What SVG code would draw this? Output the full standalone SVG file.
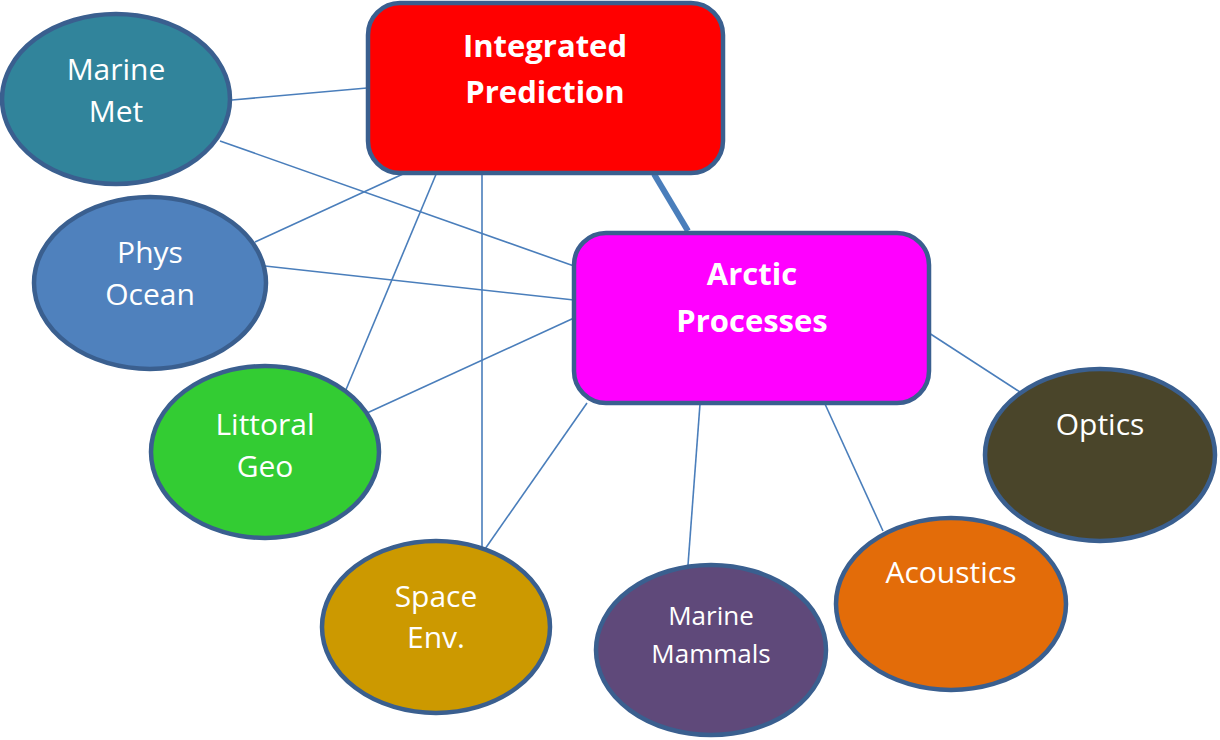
<svg xmlns="http://www.w3.org/2000/svg" width="1220" height="740" viewBox="0 0 1220 740">
  <style>
    .link { stroke: #4A7EBB; stroke-width: 1.6; fill: none; }
    .link-main { stroke: #4A7EBB; stroke-width: 6; fill: none; }
    .node { stroke: #3A5F8F; stroke-width: 4.5; }
    .label { font-family: "Open Sans", "Liberation Sans", sans-serif; font-size: 30px; fill: #FFFFFF; text-anchor: middle; }
    .label-bold { font-family: "Open Sans", "Liberation Sans", sans-serif; font-size: 31px; font-weight: bold; fill: #FFFFFF; text-anchor: middle; }
    .label-small { font-size: 26px; }
  </style>

  <!-- connectors -->
  <g id="connectors">
    <line class="link-main" x1="654" y1="174" x2="688" y2="231"/>
    <line class="link" x1="232" y1="100" x2="367" y2="88"/>
    <line class="link" x1="220" y1="141" x2="574" y2="266"/>
    <line class="link" x1="255" y1="242" x2="403" y2="174"/>
    <line class="link" x1="265" y1="266" x2="574" y2="300"/>
    <line class="link" x1="345" y1="392" x2="437" y2="172"/>
    <line class="link" x1="367" y1="413" x2="574" y2="318"/>
    <line class="link" x1="482" y1="552" x2="482" y2="174"/>
    <line class="link" x1="485" y1="549" x2="587" y2="403"/>
    <line class="link" x1="688" y1="565" x2="700" y2="404"/>
    <line class="link" x1="883" y1="531" x2="825" y2="404"/>
    <line class="link" x1="1020" y1="392" x2="929" y2="333"/>
  </g>

  <!-- process boxes -->
  <g id="integrated-prediction">
    <rect class="node" x="368" y="3" width="355" height="170" rx="32" fill="#FF0000"/>
    <text class="label-bold" x="545" y="57">Integrated</text>
    <text class="label-bold" x="545" y="103">Prediction</text>
  </g>

  <g id="arctic-processes">
    <rect class="node" x="574" y="233" width="355" height="170" rx="32" fill="#FF00FF"/>
    <text class="label-bold" x="752" y="285">Arctic</text>
    <text class="label-bold" x="752" y="332">Processes</text>
  </g>

  <!-- discipline ellipses -->
  <g id="marine-met">
    <ellipse class="node" cx="116" cy="99" rx="114" ry="85" fill="#31849B"/>
    <text class="label" x="116" y="80">Marine</text>
    <text class="label" x="116" y="122">Met</text>
  </g>

  <g id="phys-ocean">
    <ellipse class="node" cx="150" cy="283" rx="116" ry="86" fill="#4F81BD"/>
    <text class="label" x="150" y="263">Phys</text>
    <text class="label" x="150" y="305">Ocean</text>
  </g>

  <g id="littoral-geo">
    <ellipse class="node" cx="265" cy="452" rx="114" ry="86" fill="#33CC33"/>
    <text class="label" x="265" y="435">Littoral</text>
    <text class="label" x="265" y="477">Geo</text>
  </g>

  <g id="space-env">
    <ellipse class="node" cx="436" cy="627" rx="114" ry="86" fill="#CC9900"/>
    <text class="label" x="436" y="607">Space</text>
    <text class="label" x="436" y="648">Env.</text>
  </g>

  <g id="marine-mammals">
    <ellipse class="node" cx="711" cy="650" rx="115" ry="85" fill="#5F497A"/>
    <text class="label label-small" x="711" y="625">Marine</text>
    <text class="label label-small" x="711" y="663">Mammals</text>
  </g>

  <g id="acoustics">
    <ellipse class="node" cx="951" cy="604" rx="115" ry="86" fill="#E36C09"/>
    <text class="label" x="951" y="583">Acoustics</text>
  </g>

  <g id="optics">
    <ellipse class="node" cx="1100" cy="455" rx="115" ry="86" fill="#4A452A"/>
    <text class="label" x="1100" y="435">Optics</text>
  </g>
</svg>
